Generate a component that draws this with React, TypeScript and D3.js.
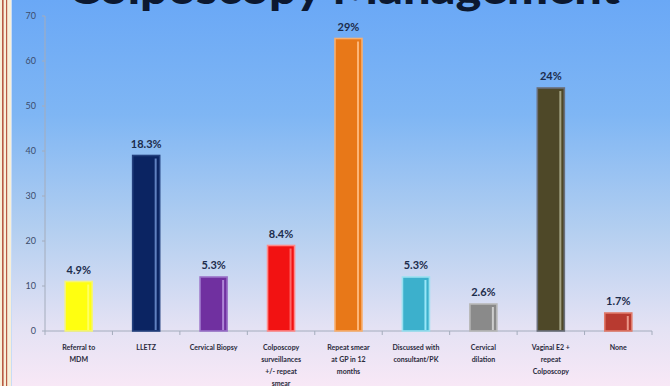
import React from "react";
import * as d3 from "d3";

const categories: string[][] = [
  ["Referral to", "MDM"],
  ["LLETZ"],
  ["Cervical Biopsy"],
  ["Colposcopy", "surveillances", "+/- repeat", "smear"],
  ["Repeat smear", "at GP in 12", "months"],
  ["Discussed with", "consultant/PK"],
  ["Cervical", "dilation"],
  ["Vaginal E2 +", "repeat", "Colposcopy"],
  ["None"],
];
const values: number[] = [11, 39, 12, 19, 65, 12, 6, 54, 4];
const percentLabels: string[] = ["4.9%", "18.3%", "5.3%", "8.4%", "29%", "5.3%", "2.6%", "24%", "1.7%"];
const yTicks: number[] = [0, 10, 20, 30, 40, 50, 60, 70];
const fills: string[] = ["#ffff10", "#0b2462", "#7030a0", "#f21212", "#e87818", "#3cb0cc", "#8a8a8a", "#4e4828", "#b83a30"];
const strokes: string[] = ["#f4f47c", "#24407e", "#9a72c8", "#ff8a8a", "#f8b070", "#9ae0f0", "#b8b8b8", "#6a6e78", "#e07a6a"];
const highlights: string[] = ["#ffff70", "#7090d0", "#b894e0", "#ff7878", "#ffc088", "#a8f0ff", "#d8d8d8", "#b4b494", "#f4a898"];
const title = "Colposcopy Management";

const W = 670;
const H = 386;

export default function App() {
  const x = d3.scaleBand<number>().domain(d3.range(categories.length)).range([45, 652]).paddingInner(0).paddingOuter(0);
  const y = d3.scaleLinear().domain([0, 70]).range([331, 16]);
  const barW = 27;
  const font = "Lato, 'Open Sans', 'Liberation Sans', sans-serif";

  return (
    <svg width={W} height={H} style={{ position: "absolute", left: 0, top: 0, display: "block" }}>
      <defs>
        <linearGradient id="bg" x1="0" y1="0" x2="0" y2="1">
          <stop offset="0" stopColor="#6aa8f6" />
          <stop offset="0.3" stopColor="#7fb6f4" />
          <stop offset="0.6" stopColor="#b4cff0" />
          <stop offset="0.85" stopColor="#e4e2f4" />
          <stop offset="1" stopColor="#f8e8f6" />
        </linearGradient>
      </defs>
      <rect x={0} y={0} width={W} height={H} fill="url(#bg)" />
      {/* left frame */}
      <rect x={0} y={0} width={11} height={H} fill="#f8efd8" />
      <rect x={2} y={0} width={1.6} height={H} fill="#b85a44" />
      <rect x={6} y={0} width={1.2} height={H} fill="#b85a44" />
      <rect x={11} y={0} width={1} height={H} fill="#c8dcf6" />

      {/* title */}
      <text x={344} y={4} textAnchor="middle" fontFamily={font} fontWeight={900} fontSize={44}
        fill="#0c1830" textLength={552} lengthAdjust="spacingAndGlyphs">{title}</text>

      {/* y axis */}
      <line x1={45} x2={45} y1={y(70)} y2={y(0)} stroke="#a4acbc" strokeWidth={1} />
      {yTicks.map((t) => (
        <g key={t}>
          <line x1={42} x2={45} y1={y(t)} y2={y(t)} stroke="#a4acbc" />
          <text x={36} y={y(t) + 3} textAnchor="end" fontFamily={font} fontSize={9} fill="#3c4c6c">{t}</text>
        </g>
      ))}

      {/* x axis */}
      <line x1={45} x2={652} y1={y(0)} y2={y(0)} stroke="#a4acbc" strokeWidth={1} />
      {d3.range(categories.length + 1).map((i) => {
        const xx = 45 + i * x.bandwidth();
        return <line key={i} x1={xx} x2={xx} y1={y(0)} y2={y(0) + 4} stroke="#a4acbc" />;
      })}

      {/* bars */}
      {values.map((v, i) => {
        const cx = (x(i) as number) + x.bandwidth() / 2;
        const top = y(v);
        const h = y(0) - top;
        return (
          <g key={i}>
            <rect x={cx - barW / 2} y={top} width={barW} height={h} fill={fills[i]} stroke={strokes[i]} strokeWidth={1.6} />
            <rect x={cx + barW / 2 - 5} y={top + 3} width={2} height={Math.max(0, h - 4)} fill={highlights[i]} opacity={0.85} />
            <text x={cx} y={top - 8} textAnchor="middle" fontFamily={font} fontWeight={700} fontSize={11} fill="#1c2c4c">{percentLabels[i]}</text>
          </g>
        );
      })}

      {/* category labels */}
      {categories.map((lines, i) => {
        const cx = (x(i) as number) + x.bandwidth() / 2;
        return (
          <text key={i} textAnchor="middle" fontFamily={font} fontWeight={700} fontSize={7} fill="#2a2a3c">
            {lines.map((ln, j) => (
              <tspan key={j} x={cx} y={350 + j * 12}>{ln}</tspan>
            ))}
          </text>
        );
      })}
    </svg>
  );
}
